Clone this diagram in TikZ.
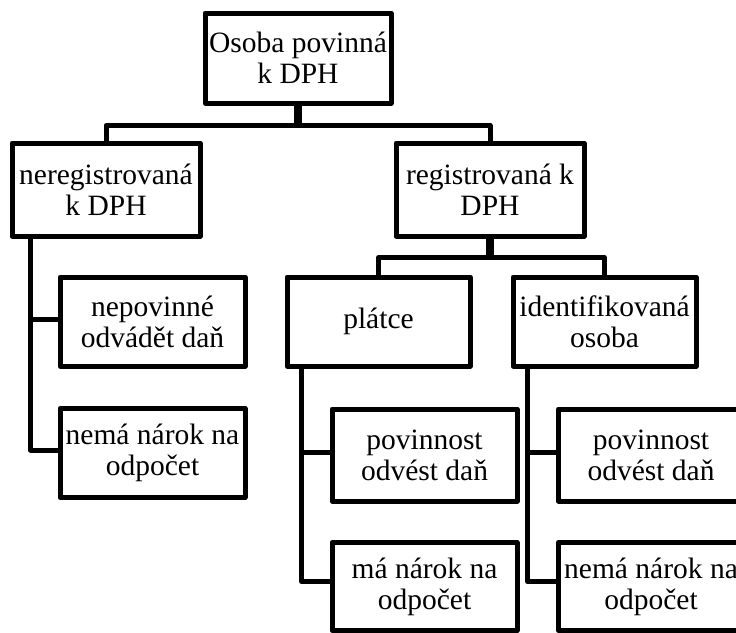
\documentclass[tikz,border=0pt]{standalone}
\usepackage{fontspec}
\setmainfont{Liberation Serif}
\usetikzlibrary{calc}
\begin{document}
\begin{tikzpicture}[x=1pt,y=-1pt,
  box/.style={draw,line width=5pt,line join=round,fill=white,inner sep=0pt,
    align=center,font=\fontsize{29.5}{31}\selectfont},
  conn/.style={draw,line width=5pt,line join=round},
  stem/.style={draw,line width=8pt}]
\useasboundingbox (0,0) rectangle (736,632);
\clip (0,0) rectangle (736,632);
\fill[white] (0,0) rectangle (736,632);

% level 1 and 2
\node[box,minimum width=186pt,minimum height=90pt] (top) at (298,58) {Osoba povinná\\k DPH};
\node[box,minimum width=188pt,minimum height=93pt] (nereg) at (106,189.5) {neregistrovaná\\k DPH};
\node[box,minimum width=188pt,minimum height=93pt] (reg) at (490,189.5) {registrovaná k\\DPH};

% children of the unregistered person
\node[box,minimum width=185pt,minimum height=89pt] (nepov) at (152.5,321.5) {nepovinné\\odvádět daň};
\node[box,minimum width=185pt,minimum height=89pt] (nemaA) at (152.5,453) {nemá nárok na\\odpočet};

% registered: payer and identified person
\node[box,minimum width=183pt,minimum height=89pt] (platce) at (378.5,321.5) {plátce};
\node[box,minimum width=183pt,minimum height=89pt] (ident) at (604.5,321.5) {identifikovaná\\osoba};

\node[box,minimum width=185pt,minimum height=92pt] (povA) at (424.5,455) {povinnost\\odvést daň};
\node[box,minimum width=185pt,minimum height=88pt] (maA) at (424.5,586.5) {má nárok na\\odpočet};
\node[box,minimum width=185pt,minimum height=92pt] (povB) at (651,455) {povinnost\\odvést daň};
\node[box,minimum width=185pt,minimum height=88pt] (nemaB) at (651,586.5) {nemá nárok na\\odpočet};

% buses below the parent boxes
\coordinate (busTop) at ($(top.south)+(0,20)$);
\coordinate (busReg) at ($(reg.south)+(0,19)$);

\draw[stem] (top.south) -- (busTop);
\draw[conn] (nereg.north) |- (busTop) -| (reg.north);
\draw[stem] (reg.south) -- (busReg);
\draw[conn] (platce.north) |- (busReg) -| (ident.north);

% side rails to the leaf boxes
\draw[conn] ([xshift=21pt]nereg.south west) |- ([yshift=2pt]nepov.west);
\draw[conn] ([xshift=21pt]nereg.south west) |- ([yshift=3pt]nemaA.west);
\draw[conn] ([xshift=17pt]platce.south west) |- ([yshift=3pt]povA.west);
\draw[conn] ([xshift=17pt]platce.south west) |- ([yshift=5pt]maA.west);
\draw[conn] ([xshift=17pt]ident.south west) |- ([yshift=3pt]povB.west);
\draw[conn] ([xshift=17pt]ident.south west) |- ([yshift=5pt]nemaB.west);
\end{tikzpicture}
\end{document}
